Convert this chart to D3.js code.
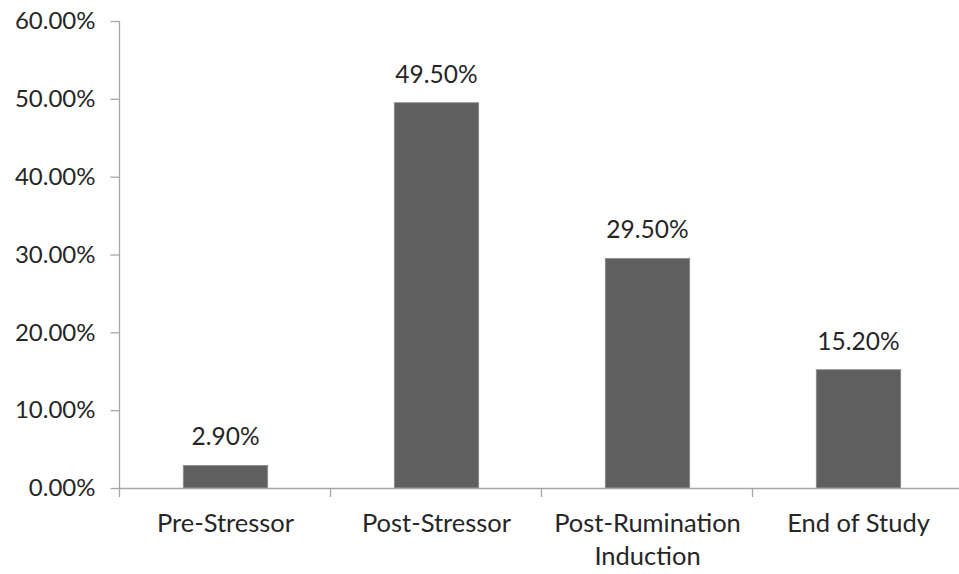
<!DOCTYPE html>
<html>
<head>
<meta charset="utf-8">
<script src="https://cdn.jsdelivr.net/npm/d3@7"></script>
<style>
  html, body { margin: 0; padding: 0; background: #ffffff; }
  svg { display: block; }
  text { font-family: Lato, "Open Sans", sans-serif; fill: #262626; }
</style>
</head>
<body>
<svg id="chart" width="959" height="574"></svg>
<script>
// Share of participants at each assessment point
const categories = [["Pre-Stressor"], ["Post-Stressor"], ["Post-Rumination", "Induction"], ["End of Study"]];
const values = [2.9, 49.5, 29.5, 15.2];
const valueLabels = ["2.90%", "49.50%", "29.50%", "15.20%"];
const yTicks = [0, 10, 20, 30, 40, 50, 60];
const yTickLabels = ["0.00%", "10.00%", "20.00%", "30.00%", "40.00%", "50.00%", "60.00%"];

const svg = d3.select("#chart");
const x0 = 120, x1 = 964, yTop = 21, yBottom = 488;
const axisColor = "#a6a6a6";

const keys = categories.map(c => c.join(" "));
const x = d3.scaleBand().domain(keys).range([x0, x1]).paddingInner(0.6).paddingOuter(0.3);
const y = d3.scaleLinear().domain([0, 60]).range([yBottom, yTop]);

// Y axis
const yAxis = svg.append("g")
  .attr("transform", `translate(${x0 - 0.5},0)`)
  .call(d3.axisLeft(y).tickValues(yTicks).tickSize(9).tickPadding(15)
    .tickFormat((d, i) => yTickLabels[i]));
yAxis.select(".domain").attr("stroke", axisColor).attr("stroke-width", 1.3).attr("d", `M0,${yTop}V${yBottom}`);
yAxis.selectAll(".tick line").attr("stroke", axisColor).attr("stroke-width", 1.3);
yAxis.selectAll(".tick text").attr("font-size", 24).attr("fill", "#262626");

// Bars
svg.append("g").selectAll("rect")
  .data(values)
  .join("rect")
  .attr("x", (d, i) => x(keys[i]))
  .attr("y", d => y(d))
  .attr("width", x.bandwidth())
  .attr("height", d => y(0) - y(d))
  .attr("fill", "#5f5f5f")
  .attr("stroke", "#8c8c8c")
  .attr("stroke-width", 0.8);

// X axis with ticks at band boundaries
const xg = svg.append("g");
xg.append("line")
  .attr("x1", x0 - 0.5).attr("x2", 959).attr("y1", yBottom + 0.5).attr("y2", yBottom + 0.5)
  .attr("stroke", axisColor).attr("stroke-width", 1.3);
const boundaries = keys.map(k => x(k) - (x.step() - x.bandwidth()) / 2);
xg.selectAll("line.tick")
  .data(boundaries)
  .join("line")
  .attr("class", "tick")
  .attr("x1", d => Math.round(d) - 0.5).attr("x2", d => Math.round(d) - 0.5)
  .attr("y1", yBottom).attr("y2", yBottom + 9)
  .attr("stroke", axisColor).attr("stroke-width", 1.3);

// Category labels
svg.append("g").selectAll("text")
  .data(categories)
  .join("text")
  .attr("x", (d, i) => x(keys[i]) + x.bandwidth() / 2)
  .attr("y", 532)
  .attr("text-anchor", "middle")
  .attr("font-size", 25.5)
  .selectAll("tspan")
  .data(d => d)
  .join("tspan")
  .attr("x", function () { return d3.select(this.parentNode).attr("x"); })
  .attr("dy", (d, i) => i === 0 ? 0 : 32.5)
  .text(d => d);

// Value labels above bars
svg.append("g").selectAll("text")
  .data(values)
  .join("text")
  .attr("x", (d, i) => x(keys[i]) + x.bandwidth() / 2)
  .attr("y", d => y(d) - 20)
  .attr("text-anchor", "middle")
  .attr("font-size", 24.5)
  .text((d, i) => valueLabels[i]);
</script>
</body>
</html>
